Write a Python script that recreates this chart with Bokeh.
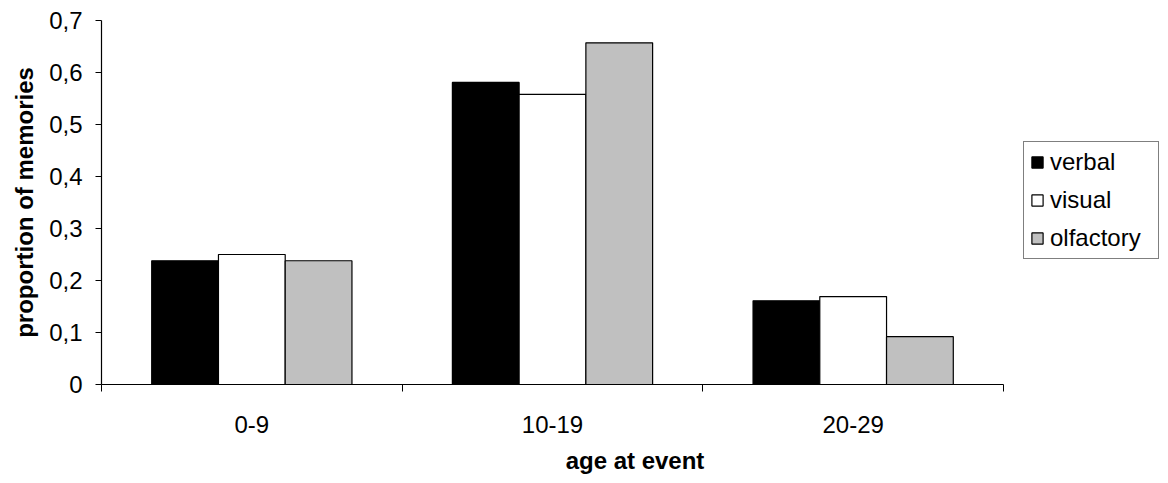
from bokeh.plotting import figure
from bokeh.models import (Range1d, FixedTicker, CustomJSTickFormatter, Legend, LegendItem,
                          ColumnDataSource)
from bokeh.embed import file_html
from bokeh.resources import INLINE

# ---- data ----
categories = ["0-9", "10-19", "20-29"]
series_names = ["verbal", "visual", "olfactory"]
verbal = [0.238, 0.581, 0.161]
visual = [0.250, 0.558, 0.169]
olfactory = [0.238, 0.657, 0.092]
y_ticks = [0, 0.1, 0.2, 0.3, 0.4, 0.5, 0.6, 0.7]

colors = ["#000000", "#ffffff", "#c0c0c0"]
FONT = "Liberation Sans"
FS = "24px"

W, H = 1168, 483
LEFT, TOP, BOTTOM = 101, 20, 99
AXIS_RIGHT = 1003  # where the category axis ends (pixels)
n = len(categories)
x_end = n * (W - LEFT) / (AXIS_RIGHT - LEFT)  # frame runs to the page edge so the legend fits

p = figure(width=W, height=H, output_backend="svg", toolbar_location=None,
           x_range=Range1d(0, x_end), y_range=Range1d(0, 0.7))
p.min_border_left = LEFT
p.min_border_right = 0
p.min_border_top = TOP
p.min_border_bottom = BOTTOM
p.outline_line_color = None
p.xgrid.visible = False
p.ygrid.visible = False
p.background_fill_color = "white"
p.border_fill_color = "white"

bar_w = 0.222
offsets = [-bar_w, 0.0, bar_w]
values = [verbal, visual, olfactory]
renderers = []
for name, vals, off, col in zip(series_names, values, offsets, colors):
    xs = [i + 0.5 + off for i in range(n)]
    src = ColumnDataSource(dict(x=xs, top=vals))
    r = p.vbar(x="x", top="top", bottom=0, width=bar_w, source=src,
               fill_color=col, line_color="black", line_width=1.2)
    renderers.append(r)

# x axis: labels at category centres, tick marks at category boundaries
xa = p.xaxis[0]
xa.bounds = (0, n)
xa.ticker = FixedTicker(ticks=[i + 0.5 for i in range(n)],
                        minor_ticks=list(range(n + 1)))
xa.formatter = CustomJSTickFormatter(args=dict(labels=categories),
                                     code="return labels[Math.floor(tick)];")
xa.major_tick_out = 0
xa.major_tick_in = 0
xa.minor_tick_out = 7
xa.minor_tick_in = 0
xa.minor_tick_line_color = "black"
xa.axis_line_color = "black"
xa.axis_line_width = 1.2
xa.major_label_text_font = FONT
xa.major_label_text_font_size = FS
xa.major_label_text_color = "black"
xa.major_label_standoff = 24
xa.axis_label = "age at event"
xa.axis_label_text_font = FONT
xa.axis_label_text_font_size = FS
xa.axis_label_text_font_style = "bold"
xa.axis_label_text_color = "black"
xa.axis_label_standoff = 11

ya = p.yaxis[0]
ya.ticker = FixedTicker(ticks=y_ticks)
ya.formatter = CustomJSTickFormatter(code="if (Math.abs(tick) < 1e-9) return '0'; return tick.toFixed(1).replace('.', ',');")
ya.major_tick_out = 6
ya.major_tick_in = 0
ya.minor_tick_out = 0
ya.minor_tick_in = 0
ya.major_tick_line_color = "black"
ya.axis_line_color = "black"
ya.axis_line_width = 1.2
ya.major_label_text_font = FONT
ya.major_label_text_font_size = FS
ya.major_label_text_color = "black"
ya.major_label_standoff = 13
ya.axis_label = "proportion of memories"
ya.axis_label_text_font = FONT
ya.axis_label_text_font_size = FS
ya.axis_label_text_font_style = "bold"
ya.axis_label_text_color = "black"
ya.axis_label_standoff = 8

legend = Legend(items=[LegendItem(label=s, renderers=[r]) for s, r in zip(series_names, renderers)],
                location=(922, 125))
legend.border_line_color = "black"
legend.border_line_width = 1.2
legend.background_fill_color = "white"
legend.background_fill_alpha = 1.0
legend.label_text_font = FONT
legend.label_text_font_size = FS
legend.label_text_color = "black"
legend.glyph_width = 14
legend.glyph_height = 14
legend.label_height = 24
legend.label_width = 102
legend.spacing = 10
legend.padding = 6
legend.margin = 0
legend.label_standoff = 6
p.add_layout(legend)

open("out.html", "w").write(file_html(p, INLINE))
